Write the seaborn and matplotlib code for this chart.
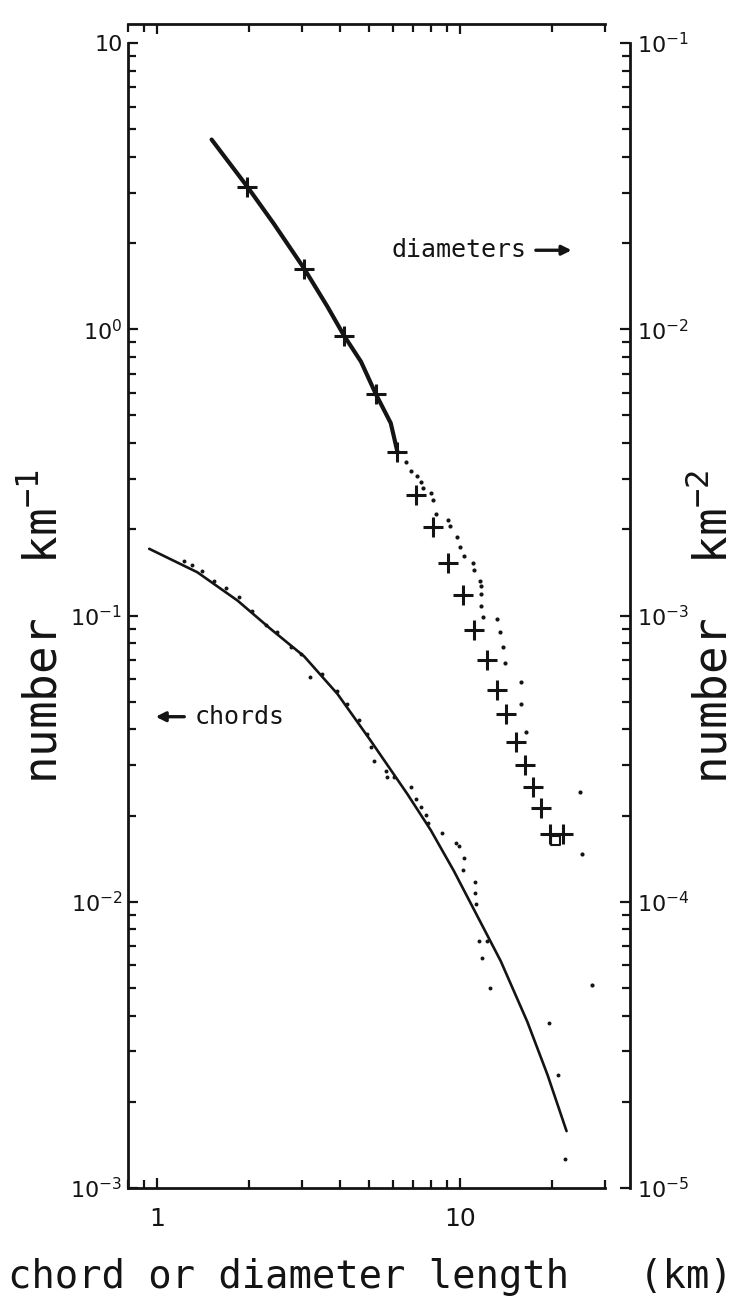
import numpy as np
import pandas as pd
import matplotlib
matplotlib.use("Agg")
import matplotlib.pyplot as plt
import seaborn as sns
from matplotlib.ticker import FixedLocator, FixedFormatter, LogLocator, NullFormatter

# ---------------- data ----------------
# chords: left axis, number km^-1
chord_line_x = [0.94, 1.355, 1.84, 2.366, 3.05, 3.93, 5.06, 6.68, 7.98, 9.52, 11.38, 13.59, 16.64, 19.37, 22.4]
chord_line_y = [0.171, 0.1416, 0.1127, 0.0897, 0.0720, 0.0532, 0.0365, 0.0238, 0.0178, 0.0128, 0.0089, 0.0062, 0.0038, 0.00249, 0.00158]

chord_dot_x = [1.224, 1.305, 1.408, 1.538, 1.68, 1.86, 2.06, 2.28, 2.49, 2.75, 2.97, 3.2, 3.5, 3.93, 4.24,
               4.63, 4.93, 5.06, 5.19, 5.66, 5.74, 6.04, 6.85, 7.12, 7.4, 7.68, 7.82, 8.67, 9.65, 9.9,
               10.28, 10.23, 11.15, 11.17, 11.29, 11.51, 12.27, 11.75, 12.5, 19.6, 21.0, 22.1]
chord_dot_y = [0.1555, 0.1496, 0.1436, 0.1325, 0.125, 0.116, 0.104, 0.093, 0.0875, 0.0775, 0.0735, 0.0608, 0.0625, 0.0547, 0.0491,
               0.043, 0.0385, 0.0347, 0.0311, 0.0287, 0.0272, 0.0272, 0.0252, 0.0229, 0.0215, 0.0201, 0.0188, 0.0174, 0.0161, 0.0156,
               0.0142, 0.0129, 0.0117, 0.0107, 0.00986, 0.00731, 0.00731, 0.00635, 0.00501, 0.00376, 0.00249, 0.00126]

# diameters: right axis, number km^-2
diam_line_x = [1.51, 1.98, 2.42, 3.05, 3.64, 4.13, 4.7, 5.25, 5.89, 6.2]
diam_line_y = [4.6e-2, 3.15e-2, 2.34e-2, 1.63e-2, 1.2e-2, 0.95e-2, 0.77e-2, 0.596e-2, 0.47e-2, 0.372e-2]

diam_cross_x = [1.98, 3.05, 4.13, 5.25, 6.2, 7.16, 8.15, 9.1, 10.2, 11.1, 12.2, 13.2, 14.1, 15.3, 16.3, 17.4, 18.5, 19.7, 21.8]
diam_cross_y = [3.15e-2, 1.63e-2, 0.95e-2, 0.596e-2, 0.372e-2, 2.64e-3, 2.03e-3, 1.52e-3, 1.175e-3, 8.9e-4, 7.0e-4,
                5.5e-4, 4.53e-4, 3.62e-4, 3.0e-4, 2.51e-4, 2.13e-4, 1.73e-4, 1.73e-4]

diam_square_x = [20.6]
diam_square_y = [1.64e-4]

diam_dot_x = [6.6, 6.85, 7.21, 7.4, 7.55, 7.98, 8.15, 8.29, 9.1, 9.24, 9.77, 10.0, 10.3, 11.0, 11.1, 11.6, 11.7, 11.7,
              11.7, 11.9, 13.2, 13.5, 13.8, 14.0, 15.9, 15.9, 16.4, 24.9, 25.1, 27.2]
diam_dot_y = [3.43e-3, 3.21e-3, 3.06e-3, 2.92e-3, 2.80e-3, 2.68e-3, 2.53e-3, 2.27e-3, 2.16e-3, 2.05e-3, 1.88e-3, 1.73e-3,
              1.61e-3, 1.52e-3, 1.44e-3, 1.32e-3, 1.27e-3, 1.19e-3, 1.08e-3, 9.9e-4, 9.7e-4, 8.75e-4, 7.75e-4, 6.8e-4,
              5.85e-4, 4.89e-4, 3.93e-4, 2.41e-4, 1.47e-4, 5.1e-5]

left_ticks = [1e-3, 1e-2, 1e-1, 1, 10]
left_labels = ["10$^{-3}$", "10$^{-2}$", "10$^{-1}$", "10$^{0}$", "10"]
right_ticks = [1e-5, 1e-4, 1e-3, 1e-2, 1e-1]
right_labels = ["10$^{-5}$", "10$^{-4}$", "10$^{-3}$", "10$^{-2}$", "10$^{-1}$"]
x_ticks = [1, 10]
x_labels = ["1", "10"]

# ---------------- style ----------------
INK = "#141414"
sns.set_style("white")
plt.rcParams["font.family"] = ["DejaVu Sans"]
plt.rcParams["mathtext.default"] = "regular"
LETTER = ["DejaVu Sans Mono", "DejaVu Sans"]

W, H = 750, 1305
fig = plt.figure(figsize=(W / 100, H / 100), dpi=100)
ax_l, ax_r, ax_b, ax_t = 128, 605, 1188, 43
ax = fig.add_axes([ax_l / W, (H - ax_b) / H, (ax_r - ax_l) / W, (ax_b - ax_t) / H])
ax.set_xscale("log")
ax.set_yscale("log")
ax2 = ax.twinx()
ax2.set_yscale("log")

chords_line = pd.DataFrame({"x": chord_line_x, "y": chord_line_y})
chords_dots = pd.DataFrame({"x": chord_dot_x, "y": chord_dot_y})
diam_line = pd.DataFrame({"x": diam_line_x, "y": diam_line_y})
diam_cross = pd.DataFrame({"x": diam_cross_x, "y": diam_cross_y})
diam_sq = pd.DataFrame({"x": diam_square_x, "y": diam_square_y})
diam_dots = pd.DataFrame({"x": diam_dot_x, "y": diam_dot_y})

sns.lineplot(data=chords_line, x="x", y="y", ax=ax, color=INK, lw=1.9, estimator=None, sort=False)
sns.scatterplot(data=chords_dots, x="x", y="y", ax=ax, color=INK, s=8, linewidth=0)

sns.lineplot(data=diam_line, x="x", y="y", ax=ax2, color=INK, lw=3.0, estimator=None, sort=False)
sns.scatterplot(data=diam_dots, x="x", y="y", ax=ax2, color=INK, s=9, linewidth=0)
sns.scatterplot(data=diam_cross, x="x", y="y", ax=ax2, color=INK, marker="+", s=190, linewidth=2.2)
sns.scatterplot(data=diam_sq, x="x", y="y", ax=ax2, marker="s", s=40, facecolor="none", edgecolor=INK, linewidth=1.5)

ax.set_xlim(0.8, 30)
ax.set_ylim(1e-3, 10)
ax2.set_ylim(1e-5, 1e-1)

# spines
for a in (ax, ax2):
    for s in a.spines.values():
        s.set_color(INK)
        s.set_linewidth(2.0)
ax.spines["right"].set_visible(False)
ax.spines["top"].set_position(("outward", 14))
for k in ("left", "top", "bottom"):
    ax2.spines[k].set_visible(False)
ax2.spines["right"].set_position(("outward", 18))

# ticks
ax.xaxis.set_major_locator(FixedLocator(x_ticks))
ax.xaxis.set_major_formatter(FixedFormatter(x_labels))
ax.xaxis.set_minor_locator(LogLocator(base=10, subs=np.arange(2, 10) * 1.0, numticks=20))
ax.xaxis.set_minor_formatter(NullFormatter())
ax.yaxis.set_major_locator(FixedLocator(left_ticks))
ax.yaxis.set_major_formatter(FixedFormatter(left_labels))
ax.yaxis.set_minor_locator(LogLocator(base=10, subs=np.arange(2, 10) * 1.0, numticks=20))
ax.yaxis.set_minor_formatter(NullFormatter())
ax2.yaxis.set_major_locator(FixedLocator(right_ticks))
ax2.yaxis.set_major_formatter(FixedFormatter(right_labels))
ax2.yaxis.set_minor_locator(LogLocator(base=10, subs=np.arange(2, 10) * 1.0, numticks=20))
ax2.yaxis.set_minor_formatter(NullFormatter())

ax.tick_params(which="both", direction="in", top=True, bottom=True, left=True, right=False,
               labeltop=False, labelright=False, color=INK, labelcolor=INK, width=1.6)
ax.tick_params(which="major", length=7)
ax.tick_params(which="minor", length=6)
ax.tick_params(axis="x", labelsize=18, pad=14)
ax.tick_params(axis="y", labelsize=16, pad=4)
ax2.tick_params(which="both", direction="in", right=True, left=False, top=False, bottom=False,
                color=INK, labelcolor=INK, width=1.6, labelsize=16, pad=5)
ax2.tick_params(which="major", length=7)
ax2.tick_params(which="minor", length=6)

# labels
ax.set_xlabel("chord or diameter length   (km)", fontsize=28, color=INK, family=LETTER)
ax.xaxis.set_label_coords(0.507, -0.061)
ax.set_ylabel("number  km$^{-1}$", fontsize=33, color=INK, family=LETTER)
ax.yaxis.set_label_coords(-0.127, 0.49)
ax2.set_ylabel("number  km$^{-2}$", fontsize=33, color=INK, family=LETTER)
ax2.yaxis.set_label_coords(1.180, 0.49)

# annotations
ax.text(0.553, 0.819, "diameters", transform=ax.transAxes, fontsize=18, color=INK,
        ha="left", va="center", family=LETTER)
ax.annotate("", xy=(0.93, 0.819), xytext=(0.855, 0.819), xycoords="axes fraction",
            arrowprops=dict(arrowstyle="-|>", lw=2.4, color=INK, mutation_scale=14, shrinkA=0, shrinkB=0))
ax.text(0.140, 0.4116, "chords", transform=ax.transAxes, fontsize=18, color=INK,
        ha="left", va="center", family=LETTER)
ax.annotate("", xy=(0.058, 0.4116), xytext=(0.118, 0.4116), xycoords="axes fraction",
            arrowprops=dict(arrowstyle="-|>", lw=2.4, color=INK, mutation_scale=14, shrinkA=0, shrinkB=0))

fig.savefig("out.png", dpi=100, facecolor="white")
